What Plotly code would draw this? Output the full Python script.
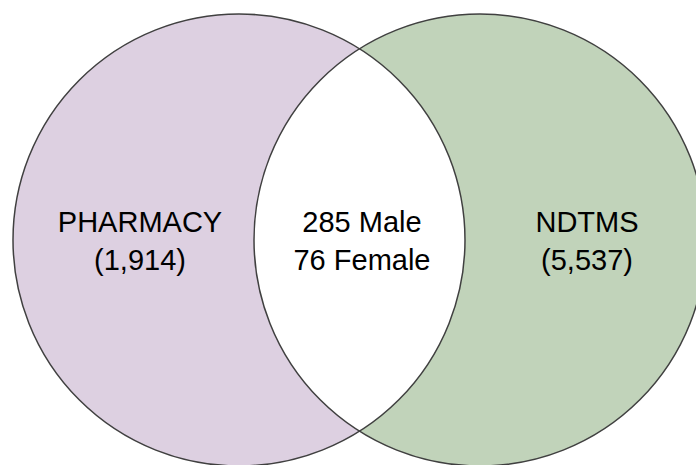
import numpy as np
import plotly.graph_objects as go

# ---- data ----
set_names = ["PHARMACY", "NDTMS"]
set_counts = ["1,914", "5,537"]
overlap_groups = ["Male", "Female"]
overlap_counts = [285, 76]

# ---- layout geometry (pixels) ----
W, H = 696, 465
R = 226
CY = 240
CX = [239, 480]
colors = ["#DDD0E1", "#C1D3BA"]
edge = "#404040"

fig = go.Figure()

shapes = []
for cx, col in zip(CX, colors):
    shapes.append(dict(type="circle", xref="x", yref="y",
                       x0=cx - R, x1=cx + R, y0=CY - R, y1=CY + R,
                       fillcolor=col, line=dict(width=0), layer="below"))

# lens (intersection) polygon
d = CX[1] - CX[0]
half = np.arccos((d / 2) / R)
t1 = np.linspace(-half, half, 200)            # arc of left circle (right side)
xa = CX[0] + R * np.cos(t1)
ya = CY + R * np.sin(t1)
t2 = np.linspace(np.pi + half, np.pi - half, 200)  # arc of right circle (left side)
xb = CX[1] + R * np.cos(t2)
yb = CY + R * np.sin(t2)
lx = np.concatenate([xa, xb])
ly = np.concatenate([ya, yb])
path = "M " + " L ".join(f"{x:.2f},{y:.2f}" for x, y in zip(lx, ly)) + " Z"
shapes.append(dict(type="path", xref="x", yref="y", path=path,
                   fillcolor="white", line=dict(width=0), layer="below"))

for cx in CX:
    shapes.append(dict(type="circle", xref="x", yref="y",
                       x0=cx - R, x1=cx + R, y0=CY - R, y1=CY + R,
                       fillcolor="rgba(0,0,0,0)", line=dict(color=edge, width=1.5),
                       layer="above"))

label_x = [140, 587]
texts = [f"{n}<br>({c})" for n, c in zip(set_names, set_counts)]
center_text = "<br>".join(f"{c} {g}" for c, g in zip(overlap_counts, overlap_groups))

fig.add_trace(go.Scatter(
    x=label_x + [362], y=[CY + 4, CY + 4, CY + 4],
    mode="text", text=texts + [center_text],
    textposition="middle center",
    textfont=dict(family="Liberation Sans, Arial, sans-serif", size=29, color="black"),
    hoverinfo="skip", showlegend=False))

fig.update_layout(
    width=W, height=H, autosize=False,
    margin=dict(l=0, r=0, t=0, b=0),
    paper_bgcolor="white", plot_bgcolor="white",
    shapes=shapes,
    xaxis=dict(range=[0, W], visible=False, fixedrange=True),
    yaxis=dict(range=[H, 0], visible=False, fixedrange=True),
    showlegend=False,
)

fig.write_html("out.html", config={"displayModeBar": False},
               post_script="document.body.style.margin='0';document.body.style.overflow='hidden';")
